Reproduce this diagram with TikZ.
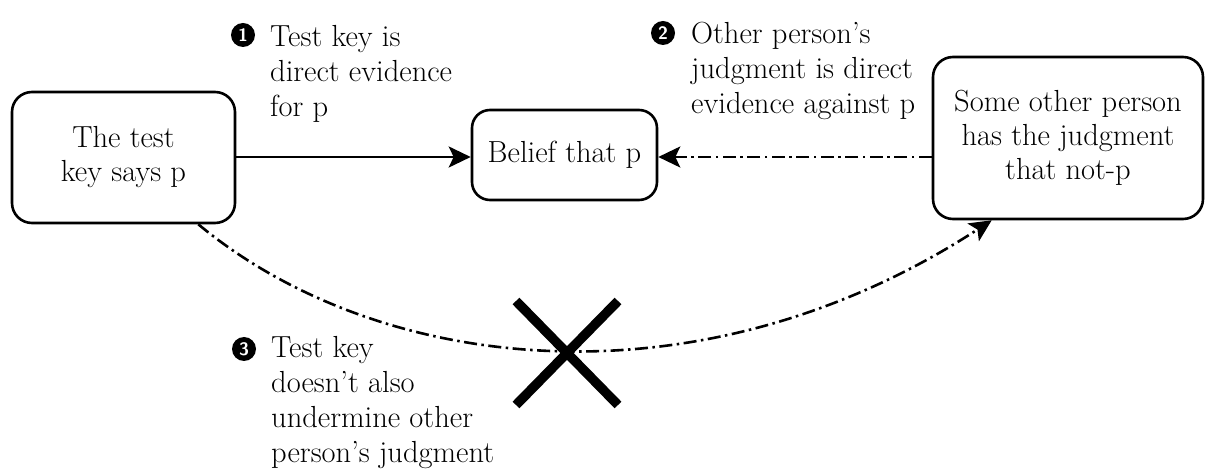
\documentclass[tikz,border=0pt]{standalone}
\usetikzlibrary{arrows.meta,calc}

\tikzset{
  box/.style={draw, line width=2.6bp, rounded corners=20bp, align=center,
    inner sep=0pt, font=\fontsize{30.5bp}{34bp}\selectfont},
  note/.style={anchor=base west, align=left, inner sep=0pt,
    font=\fontsize{30.5bp}{35bp}\selectfont},
  badge/.style={circle, fill=black, text=white, inner sep=0pt,
    minimum size=24bp, font=\sffamily\bfseries\fontsize{18bp}{18bp}\selectfont},
  link/.style={line width=2.8bp},
  dashdot/.style={line width=2.6bp, dash pattern=on 13bp off 4.5bp on 2.5bp off 4.5bp},
  tip/.style={-{Stealth[length=22bp,width=21bp,inset=5bp]}},
  cross/.style={line width=9.5bp, line cap=butt}
}

\begin{document}
\begin{tikzpicture}[x=1bp, y=-1bp]
  \useasboundingbox (0,0) rectangle (1206,472);

  % the three statements
  \node[box, minimum width=223bp, minimum height=131bp] (key) at (123.5,157.5)
    {The test\\key says p};
  \node[box, minimum width=185bp, minimum height=90bp, rounded corners=18bp] (belief) at (564.5,155)
    {Belief that p};
  \node[box, minimum width=270bp, minimum height=162bp] (other) at (1068,138)
    {Some other person\\has the judgment\\that not-p};

  % direct evidence for and against
  \draw[link, tip] (key.east |- 0,157) -- (belief.west |- 0,157);
  \draw[dashdot, tip] (other.west |- 0,157) -- (belief.east |- 0,157);

  % the undermining link that does not hold
  \coordinate (from) at ($(key.south east)+(-38,0)$);
  \coordinate (to) at ($(other.south west)+(60,0)$);
  \draw[dashdot, tip] (from) .. controls (380,375) and (700,410) .. (to);
  \draw[cross] (516,301) -- (618,405);
  \draw[cross] (618,301) -- (516,405);

  % numbered remarks (anchored at the baseline of their last line)
  \node[badge] (b1) at (243,35) {1};
  \node[note] (n1) at (270,117) {Test key is\\direct evidence\\for p};
  \node[badge] (b2) at (663,33) {2};
  \node[note] (n2) at (691,114) {Other person’s\\judgment is direct\\evidence against p};
  \node[badge] (b3) at (244,349) {3};
  \node[note] (n3) at (271,463) {Test key\\doesn’t also\\undermine other\\person’s judgment};
\end{tikzpicture}
\end{document}
